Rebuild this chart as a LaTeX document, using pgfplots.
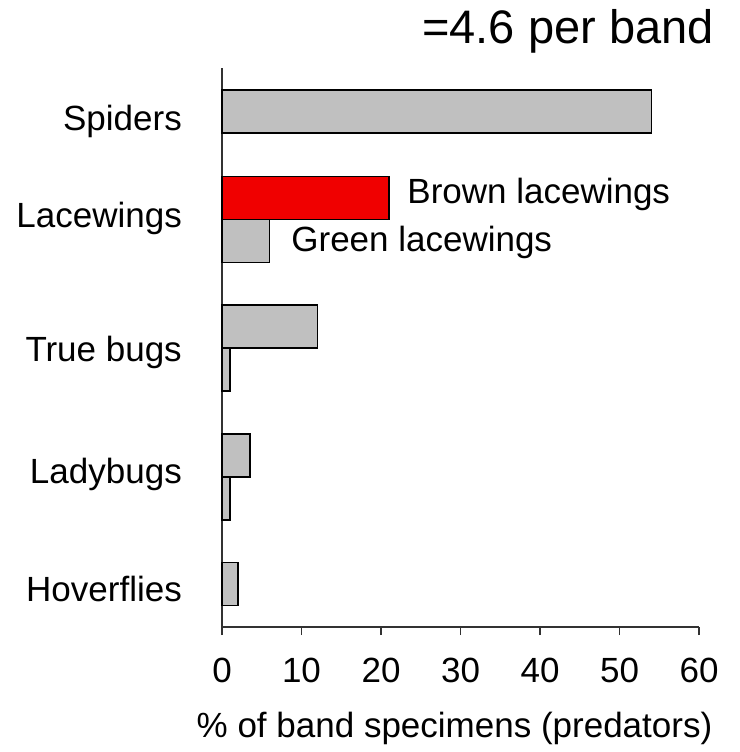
\documentclass[border=0pt]{standalone}
\usepackage{fontspec}
\setmainfont{Liberation Sans}
\usepackage{pgfplots}
\pgfplotsset{compat=1.18}
\definecolor{barGray}{RGB}{192,192,192}
\definecolor{barRed}{RGB}{240,0,0}
\definecolor{axisGray}{RGB}{50,50,50}
\begin{document}
\begin{tikzpicture}
\begin{axis}[
  scale only axis,
  width=477pt, height=559pt,
  xmin=0, xmax=60,
  ymin=-0.1712, ymax=4.179,
  enlargelimits=false,
  clip=false,
  axis x line*=bottom,
  axis y line*=left,
  axis line style={draw=axisGray, line width=1.8pt},
  font=\fontsize{35}{40}\selectfont,
  /pgf/number format/assume math mode=true,
  xtick={0,10,20,30,40,50,60},
  tick align=outside,
  major tick length=8pt,
  xtick style={draw=axisGray, line width=1.8pt},
  ytick style={draw=none},
  ytick={0.026,0.942,1.893,2.934,3.691},
  yticklabels={Hoverflies,Ladybugs,True bugs,Lacewings,Spiders},
  yticklabel style={anchor=base east, inner sep=0pt, xshift=-32pt},
  xticklabel style={anchor=base, inner sep=0pt, yshift=-47pt},
  xlabel={\% of band specimens (predators)},
  xlabel style={at={(rel axis cs:0.4874,-0.1968)}, anchor=base, inner sep=0pt},
  title={=4.6 per band},
  title style={at={(rel axis cs:0.7254,1.0322)}, anchor=base, inner sep=0pt, font=\fontsize{47}{52}\selectfont},
]
\addplot[xbar, bar width=0.335, bar shift=0, fill=barGray, draw=black, line width=1.5pt]
  coordinates {(54,3.84) (6,2.833) (12,2.167) (1,1.833) (3.5,1.163) (1,0.829) (2,0.163)};
\addplot[xbar, bar width=0.335, bar shift=0, fill=barRed, draw=black, line width=1.5pt]
  coordinates {(21,3.167)};
\node[anchor=base west, inner sep=0pt] at (axis cs:23.3,3.128) {Brown lacewings};
\node[anchor=base west, inner sep=0pt] at (axis cs:8.7,2.747) {Green lacewings};
\path (rel axis cs:-0.4654,-0.2236) rectangle (rel axis cs:1.0839,1.1216);
\end{axis}
\end{tikzpicture}
\end{document}
